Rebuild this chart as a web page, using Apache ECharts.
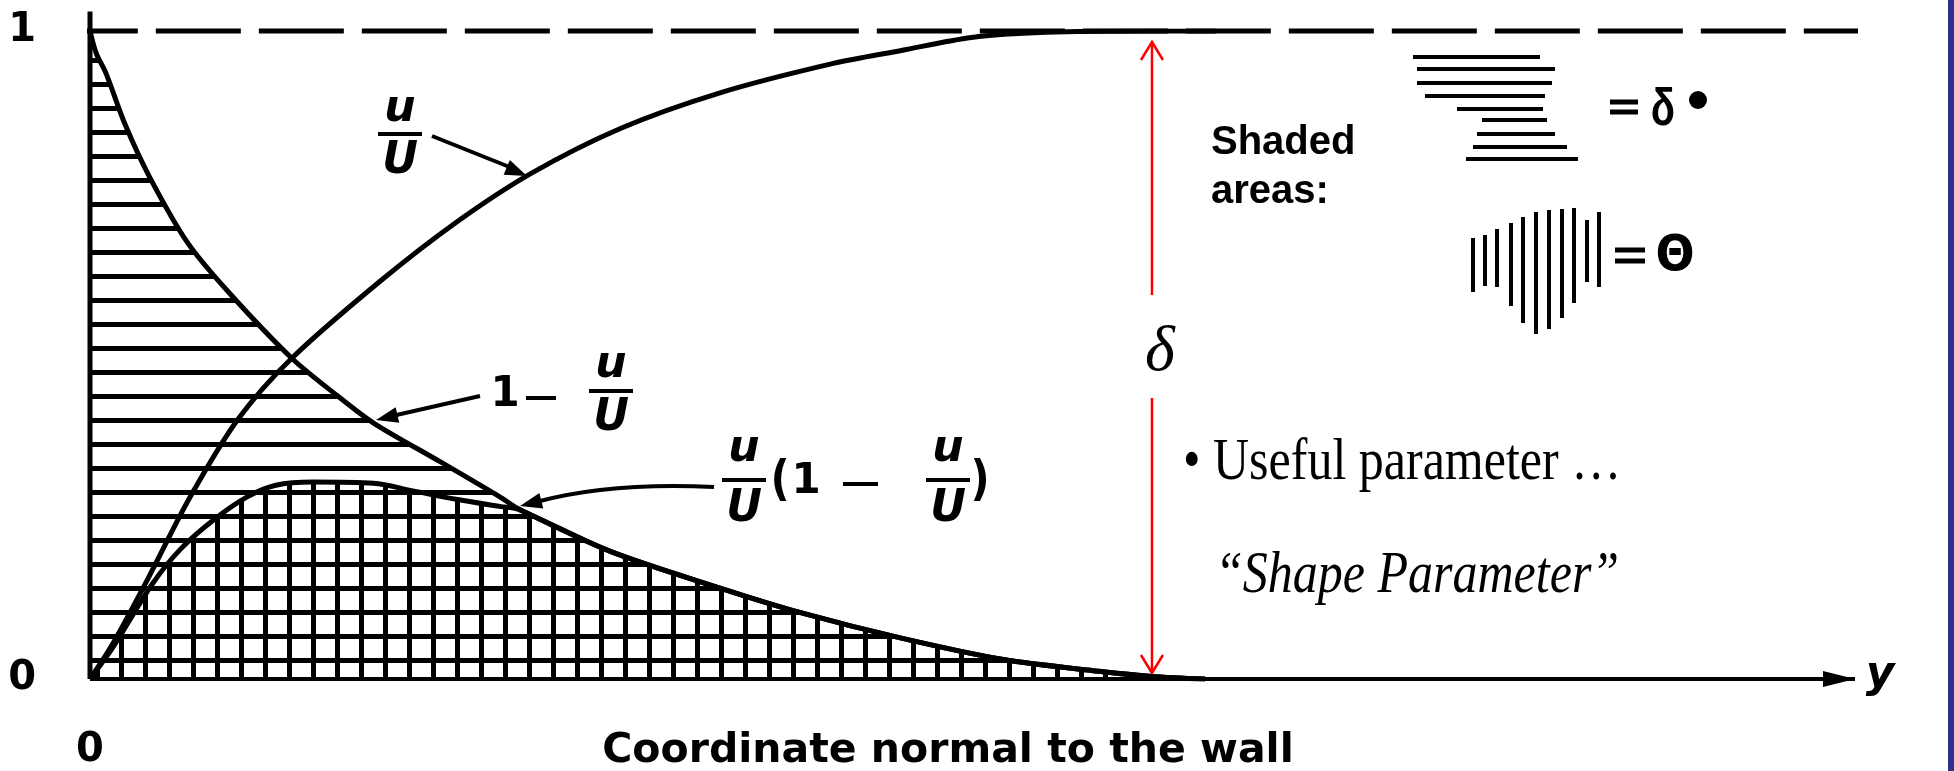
<!DOCTYPE html>
<html>
<head>
<meta charset="utf-8">
<title>Displacement and momentum thickness</title>
<script src="https://cdn.jsdelivr.net/npm/echarts@6/dist/echarts.min.js"></script>
<style>
html, body { margin: 0; padding: 0; background: #fff; }
#main { width: 1954px; height: 771px; }
</style>
</head>
<body>
<div id="main"></div>
<script>
// positions are y/delta, values are fractions of U
var uU_pos = [0, 0.022, 0.054, 0.094, 0.139, 0.19, 0.274, 0.345, 0.415, 0.5, 0.594, 0.7, 0.764, 0.83, 0.9, 1.0, 1.06];
var uU_val = [0, 0.056, 0.153, 0.28, 0.40, 0.495, 0.615, 0.705, 0.78, 0.85, 0.905, 0.95, 0.97, 0.99, 0.998, 1.0, 1.0];

var om_pos = [0, 0.006, 0.015, 0.033, 0.056, 0.092, 0.131, 0.19, 0.233, 0.267, 0.33, 0.387, 0.403, 0.49, 0.594, 0.67, 0.764, 0.86, 0.95, 1.0, 1.05];
var om_val = [1.0, 0.965, 0.935, 0.856, 0.775, 0.673, 0.596, 0.495, 0.437, 0.395, 0.335, 0.28, 0.263, 0.197, 0.14, 0.102, 0.063, 0.03, 0.012, 0.004, 0];

var th_pos = [0, 0.022, 0.058, 0.085, 0.116, 0.148, 0.175, 0.21, 0.267, 0.305, 0.346, 0.387, 0.403, 0.49, 0.594, 0.67, 0.764, 0.86, 0.95, 1.0, 1.05];
var th_val = [0, 0.05, 0.145, 0.2, 0.245, 0.281, 0.299, 0.304, 0.302, 0.29, 0.277, 0.266, 0.262, 0.197, 0.14, 0.102, 0.063, 0.03, 0.012, 0.004, 0];

var yTicks = [0, 1];
var xTicks = [0];
var xTitle = 'Coordinate normal to the wall';
var xMax = 1.662;               // arrow tip of the y/delta axis
var edgeLine = [-0.035, 1.755]; // dashed u = U line runs past the axes

var GRID = { left: 90, right: 99, top: 31, bottom: 92 };
var W = 1954, H = 771;

function pairs(xs, ys) {
    return xs.map(function (x, i) { return [x, ys[i]]; });
}

// hatch tiles for the shaded areas
function hatch(dir) {
    var c = document.createElement('canvas');
    c.width = 24; c.height = 24;
    var ctx = c.getContext('2d');
    ctx.fillStyle = '#000';
    if (dir === 'h') {
        ctx.fillRect(0, 10, 24, 5);
    } else {
        ctx.fillRect(0, 0, 4, 24);
        ctx.fillRect(23, 0, 1, 24);
    }
    return c;
}

var SANS = '"DejaVu Sans", sans-serif';

function arrowHead(x1, y1, x2, y2, len, half) {
    var a = Math.atan2(y2 - y1, x2 - x1);
    var bx = x2 - len * Math.cos(a), by = y2 - len * Math.sin(a);
    var nx = -Math.sin(a) * half, ny = Math.cos(a) * half;
    return { type: 'polygon', shape: { points: [[x2, y2], [bx + nx, by + ny], [bx - nx, by - ny]] }, style: { fill: '#000' } };
}
function text(x, y, s, font, align, sy) {
    return { type: 'text', x: x, y: y, scaleY: sy || 1,
             style: { text: s, font: font, fill: '#000', align: align || 'center', verticalAlign: 'middle' } };
}
function seg(x1, y1, x2, y2, w, color) {
    return { type: 'line', shape: { x1: x1, y1: y1, x2: x2, y2: y2 }, style: { stroke: color || '#000', lineWidth: w } };
}
function frac(cx, yu, ybar, yU, half) {
    var f = 'italic bold 44px ' + SANS;
    return [text(cx, yu, 'u', f), seg(cx - half, ybar, cx + half, ybar, 4), text(cx, yU, 'U', f)];
}

// pixel position of y = delta (x = 1) from the grid scale
var plotW = W - GRID.left - GRID.right;
var dx = GRID.left + plotW / xMax;
var yTopPx = GRID.top, yBasePx = H - GRID.bottom;

var g = [];
var bold = 'bold 42px ' + SANS;

// axis title
g.push(text(948, 751, xTitle, 'bold 41px ' + SANS));

// u/U label
g = g.concat(frac(400, 110, 134, 162, 22));
g.push(seg(432, 136, 512, 168, 4));
g.push(arrowHead(432, 136, 527, 176, 22, 8));

// 1 - u/U label
g.push(text(505, 395, '1', bold));
g.push(seg(526, 398, 556, 398, 4));
g = g.concat(frac(611, 366, 391, 419, 22));
g.push(seg(480, 396, 392, 416, 4));
g.push(arrowHead(480, 396, 376, 420, 22, 8));

// u/U (1 - u/U) label
g = g.concat(frac(744, 450, 480, 510, 22));
g.push(text(780, 482, '(', bold, 'center', 1.15));
g.push(text(806, 482, '1', bold));
g.push(seg(843, 484, 878, 484, 4));
g = g.concat(frac(948, 450, 480, 510, 22));
g.push(text(980, 482, ')', bold, 'center', 1.15));
g.push({ type: 'bezierCurve', shape: { x1: 714, y1: 487, cpx1: 610, cpy1: 482, x2: 536, y2: 502 }, style: { stroke: '#000', lineWidth: 4, fill: null } });
g.push(arrowHead(600, 486, 520, 506, 22, 8));

// delta span in red
var arrowTop = yTopPx + 11, arrowBot = yBasePx - 6;
g.push(seg(dx, arrowTop, dx, 295, 2.5, '#ff0000'));
g.push(seg(dx, 398, dx, arrowBot, 2.5, '#ff0000'));
g.push({ type: 'polyline', shape: { points: [[dx - 11, arrowTop + 18], [dx, arrowTop], [dx + 11, arrowTop + 18]] }, style: { stroke: '#ff0000', lineWidth: 2.5, fill: null } });
g.push({ type: 'polyline', shape: { points: [[dx - 11, arrowBot - 18], [dx, arrowBot], [dx + 11, arrowBot - 18]] }, style: { stroke: '#ff0000', lineWidth: 2.5, fill: null } });
g.push(text(dx + 8, 353, '\u03b4', 'italic 64px "Liberation Serif", serif'));

// legend of the shaded areas
var LS = 'bold 40px "Liberation Sans", sans-serif';
g.push(text(1211, 143, 'Shaded', LS, 'left'));
g.push(text(1211, 192, 'areas:', LS, 'left'));
var hRows = [[57, 1413, 1540], [69, 1417, 1555], [83, 1417, 1552], [96, 1425, 1545], [109, 1457, 1543],
             [120, 1482, 1547], [134, 1477, 1555], [147, 1473, 1567], [159, 1466, 1578]];
hRows.forEach(function (r) { g.push(seg(r[1], r[0], r[2], r[0], 4)); });
g.push(seg(1610, 102, 1638, 102, 5));
g.push(seg(1610, 112, 1638, 112, 5));
g.push(text(1663, 111, '\u03b4', 'bold 40px "Liberation Sans", sans-serif', 'center', 1.3));
g.push({ type: 'circle', shape: { cx: 1698, cy: 100, r: 9 }, style: { fill: '#000' } });
var vCols = [[1473, 238, 292], [1485, 235, 286], [1497, 229, 287], [1511, 223, 306], [1523, 217, 323],
             [1536, 212, 334], [1549, 210, 329], [1562, 209, 318], [1574, 208, 303], [1587, 220, 282], [1599, 212, 287]];
vCols.forEach(function (c) { g.push(seg(c[0], c[1], c[0], c[2], 4)); });
g.push(seg(1615, 250, 1645, 250, 5));
g.push(seg(1615, 261, 1645, 261, 5));
g.push(text(1675, 257, '\u0398', 'bold 46px ' + SANS, 'center', 1.1));

// slide notes
var SER = '50px "Liberation Serif", serif';
g.push(text(1183, 463, '\u2022 Useful parameter \u2026', SER, 'left', 1.2));
g.push(text(1215, 576, '\u201cShape Parameter\u201d', 'italic ' + SER, 'left', 1.2));

// axis letter and slide frame
g.push(text(1880, 676, 'y', 'italic bold 44px ' + SANS));
g.push({ type: 'rect', shape: { x: 1948, y: 0, width: 6, height: 771 }, style: { fill: '#2f2f8f' } });

var chart = echarts.init(document.getElementById('main'));
chart.setOption({
    animation: false,
    backgroundColor: '#fff',
    grid: GRID,
    xAxis: {
        type: 'value', min: 0, max: xMax, interval: xMax,
        axisLine: { show: false }, axisTick: { show: false }, splitLine: { show: false },
        axisLabel: {
            margin: 52, color: '#000', fontSize: 40, fontWeight: 'bold', fontFamily: SANS,
            formatter: function (v) { return xTicks.indexOf(v) >= 0 ? String(v) : ''; }
        }
    },
    yAxis: {
        type: 'value', min: 0, max: 1, interval: 1,
        axisLine: { show: false }, axisTick: { show: false }, splitLine: { show: false },
        axisLabel: {
            margin: 54, color: '#000', fontSize: 40, fontWeight: 'bold', fontFamily: SANS,
            padding: [12, 0, 0, 0],
            formatter: function (v) { return yTicks.indexOf(v) >= 0 ? String(v) : ''; }
        }
    },
    graphic: { elements: g },
    series: [
        {
            name: '1 - u/U', type: 'line', data: pairs(om_pos, om_val),
            smooth: 0.3, showSymbol: false, lineStyle: { color: '#000', width: 5 },
            areaStyle: { color: { image: hatch('h'), repeat: 'repeat' }, opacity: 1 }
        },
        {
            name: 'u/U (1 - u/U)', type: 'line', data: pairs(th_pos, th_val),
            smooth: 0.3, showSymbol: false, lineStyle: { color: '#000', width: 5 },
            areaStyle: { color: { image: hatch('v'), repeat: 'repeat' }, opacity: 1 }
        },
        {
            name: 'u/U', type: 'line', data: pairs(uU_pos, uU_val),
            smooth: 0.3, showSymbol: false, lineStyle: { color: '#000', width: 5 }
        },
        {
            name: 'edge', type: 'line', clip: false, showSymbol: false,
            data: [[edgeLine[0], 1], [edgeLine[1], 1]],
            lineStyle: { color: '#000', width: 5, type: [85, 18] }
        },
        {
            name: 'wall', type: 'line', clip: false, showSymbol: false,
            data: [[0, 0], [0, 1.03]],
            lineStyle: { color: '#000', width: 5 }
        },
        {
            name: 'y axis', type: 'line', clip: false, showAllSymbol: true,
            data: [
                { value: [0, 0], symbol: 'none' },
                { value: [xMax, 0], symbol: 'path://M0,0L32,8L0,16Z', symbolSize: [32, 16], symbolOffset: [-16, 0] }
            ],
            itemStyle: { color: '#000', borderWidth: 0 },
            lineStyle: { color: '#000', width: 4 }
        }
    ]
});
</script>
</body>
</html>
